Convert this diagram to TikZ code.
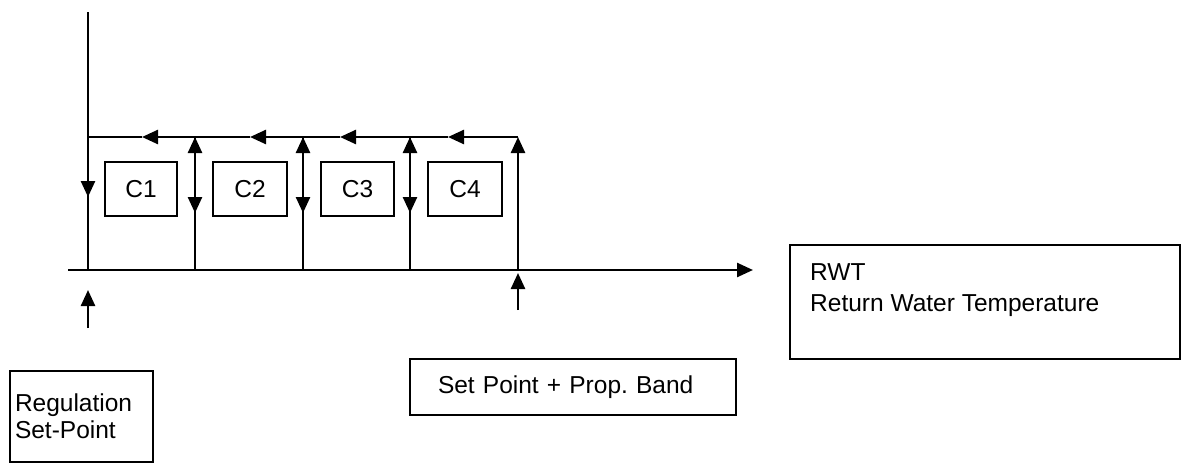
\documentclass[tikz,border=0pt]{standalone}
\usepackage{fontspec}
\setmainfont{Liberation Sans}
\usetikzlibrary{arrows.meta}
\frenchspacing
\begin{document}
\begin{tikzpicture}[x=1pt,y=-1pt,
  line/.style={line width=2.5pt},
  arr/.style={line width=2.5pt,-{Triangle[length=16pt,width=14pt]}},
  box/.style={draw,line width=1.7pt,inner sep=0pt},
  lbl/.style={font=\fontsize{24.5}{28}\selectfont},
  cbox/.style={box,lbl,minimum height=54pt}]
\useasboundingbox (0,0) rectangle (1181,463);
% coordinates
\coordinate (ytop) at (88,12);
\coordinate (o) at (88,270);
\coordinate (xs) at (68,270);
\coordinate (xe) at (753,270);
\coordinate (t0) at (88,137);
\coordinate (t1) at (195,137);
\coordinate (t2) at (303,137);
\coordinate (t3) at (410,137);
\coordinate (t4) at (518,137);
\coordinate (b1) at (195,270);
\coordinate (b2) at (303,270);
\coordinate (b3) at (410,270);
\coordinate (b4) at (518,270);
\coordinate (l1) at (142,137);
\coordinate (l2) at (250,137);
\coordinate (l3) at (340,137);
\coordinate (l4) at (448,137);
\coordinate (d0) at (88,197);
\coordinate (d1) at (195,213);
\coordinate (d2) at (303,213);
\coordinate (d3) at (410,213);
\coordinate (s0) at (88,328);
\coordinate (s0t) at (88,290);
\coordinate (s4) at (518,310);
\coordinate (s4t) at (518,273);
% boxes
\node[cbox,minimum width=72pt] (c1) at (141,189) {C1};
\node[cbox,minimum width=74pt] (c2) at (250,189) {C2};
\node[cbox,minimum width=73pt] (c3) at (357.5,189) {C3};
\node[cbox,minimum width=74pt] (c4) at (465,189) {C4};
\node[box,lbl,minimum height=91pt,text width=133pt,inner xsep=5pt,align=left] (reg) at (81.5,416.5) {Regulation\\[-1pt]Set-Point\\[2pt]};
\node[box,lbl,minimum height=56pt,text width=270pt,inner xsep=28pt,align=left] (sp) at (573,387) {Set Point + Prop. Band};
\node[box,minimum width=390pt,minimum height=114pt,anchor=north west] (rwt) at (789,244) {};
\node[font=\fontsize{24.5}{31}\selectfont,align=left,anchor=north west,inner sep=0pt] (rwtt) at (810,263) {RWT\\Return Water Temperature};
% axes
\draw[line] (ytop) -- (o);
\draw[arr] (xs) -- (xe);
% top line with arrows
\draw[arr] (t4) -- (l4);
\draw[arr] (l4) -- (l3);
\draw[arr] (l3) -- (l2);
\draw[arr] (l2) -- (l1);
\draw[line] (l1) -- (t0);
% verticals
\draw[arr] (t0) -- (d0);
\draw[arr] (b1) -- (t1);
\draw[arr] (t1) -- (d1);
\draw[arr] (b2) -- (t2);
\draw[arr] (t2) -- (d2);
\draw[arr] (b3) -- (t3);
\draw[arr] (t3) -- (d3);
\draw[arr] (b4) -- (t4);
% pointers below axis
\draw[arr] (s0) -- (s0t);
\draw[arr] (s4) -- (s4t);
\end{tikzpicture}
\end{document}
